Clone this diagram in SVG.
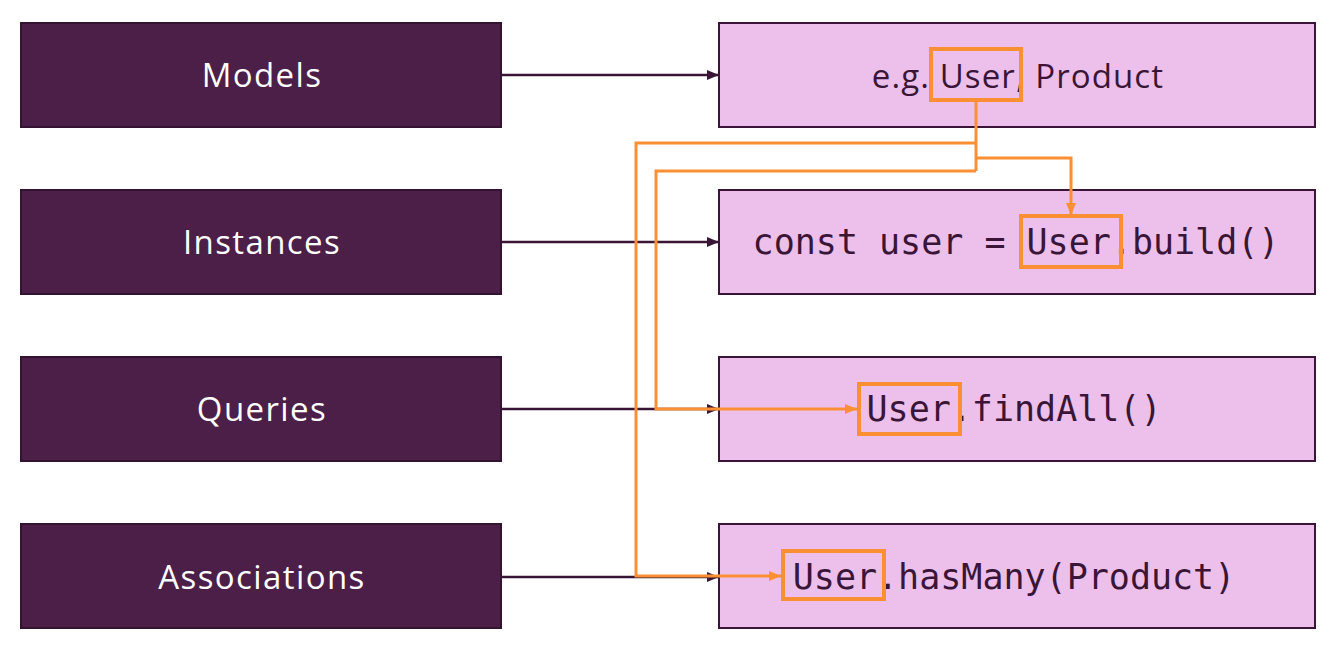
<svg xmlns="http://www.w3.org/2000/svg" width="1327" height="648" viewBox="0 0 1327 648">
<defs>
<style>
.lbox{fill:#4b1f48;stroke:#331331;stroke-width:2}
.rbox{fill:#ecc0ea;stroke:#3a1537;stroke-width:2}
.ltxt{fill:#ffffff;font-family:"Open Sans","Noto Sans",sans-serif;font-size:33px;letter-spacing:1.4px;text-anchor:middle}
.ptxt{fill:#3a1537;font-family:"Open Sans","Noto Sans",sans-serif;font-size:33px;letter-spacing:1.1px;text-anchor:middle}
.mtxt{fill:#3a1537;font-family:"DejaVu Sans Mono","Liberation Mono",monospace;font-size:35px;text-anchor:middle}
.hl{fill:none;stroke:#fb8f34;stroke-width:4}
.dark{stroke:#3a1537;stroke-width:2.5;fill:none;marker-end:url(#ad)}
.or{stroke:#fb8f34;stroke-width:3;fill:none}
.ora{stroke:#fb8f34;stroke-width:3;fill:none;marker-end:url(#ao)}
</style>
<marker id="ad" markerWidth="12" markerHeight="10" refX="12" refY="5" orient="auto" markerUnits="userSpaceOnUse"><path d="M0,0 L12,5 L0,10 Z" fill="#3a1537"/></marker>
<marker id="ao" markerWidth="12" markerHeight="10" refX="12" refY="5" orient="auto" markerUnits="userSpaceOnUse"><path d="M0,0 L12,5 L0,10 Z" fill="#fb8f34"/></marker>
</defs>
<rect width="1327" height="648" fill="#ffffff"/>
<g id="models"><rect class="lbox" x="21" y="23" width="480" height="104"/><text class="ltxt" x="262" y="87">Models</text></g>
<g id="instances"><rect class="lbox" x="21" y="190" width="480" height="104"/><text class="ltxt" x="262" y="254">Instances</text></g>
<g id="queries"><rect class="lbox" x="21" y="357" width="480" height="104"/><text class="ltxt" x="262" y="421">Queries</text></g>
<g id="associations"><rect class="lbox" x="21" y="524" width="480" height="104"/><text class="ltxt" x="262" y="589">Associations</text></g>
<g id="models-example"><rect class="rbox" x="719" y="23" width="596" height="104"/><text class="ptxt" x="1018" y="88">e.g. User, Product</text><rect class="hl" x="931" y="49" width="90" height="51"/></g>
<g id="instances-example"><rect class="rbox" x="719" y="190" width="596" height="104"/><text class="mtxt" x="1016" y="254">const user = User.build()</text><rect class="hl" x="1021" y="216" width="100" height="51"/></g>
<g id="queries-example"><rect class="rbox" x="719" y="357" width="596" height="104"/><text class="mtxt" x="1014" y="421">User.findAll()</text><rect class="hl" x="859" y="384" width="101" height="50"/></g>
<g id="associations-example"><rect class="rbox" x="719" y="524" width="596" height="104"/><text class="mtxt" x="1014" y="589">User.hasMany(Product)</text><rect class="hl" x="783" y="551" width="101" height="48"/></g>
<g id="connectors">
<line class="dark" x1="501" y1="75" x2="719" y2="75"/>
<line class="dark" x1="501" y1="242" x2="719" y2="242"/>
<line class="dark" x1="501" y1="409" x2="719" y2="409"/>
<line class="dark" x1="501" y1="577" x2="719" y2="577"/>
<polyline class="or" points="976,101 976,171"/>
<polyline class="ora" points="976,143 636,143 636,576 781,576"/>
<polyline class="ora" points="976,171 656,171 656,409 857,409"/>
<polyline class="ora" points="976,158 1071,158 1071,215"/>
</g>
</svg>
